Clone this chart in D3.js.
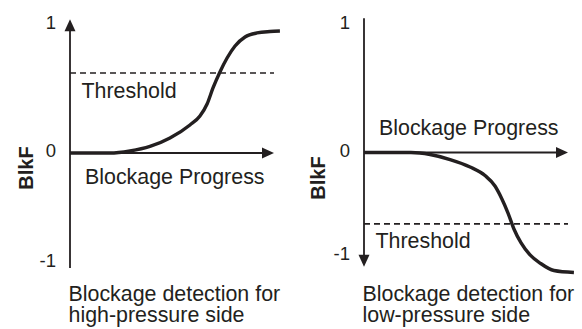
<!DOCTYPE html>
<html>
<head>
<meta charset="utf-8">
<script src="https://cdn.jsdelivr.net/npm/d3@7/dist/d3.min.js"></script>
<style>
  html, body { margin: 0; padding: 0; background: #fff; }
  svg { display: block; }
  text { font-family: "Liberation Sans", Arial, sans-serif; fill: #231f20; }
</style>
</head>
<body>
<svg id="chart" width="582" height="329"></svg>
<script>
// Blockage progress (0 = clean, 1 = fully blocked) against the BlkF indicator
const progressHigh = [0, 0.196, 0.294, 0.392, 0.490, 0.588, 0.637, 0.672, 0.701, 0.735, 0.770, 0.809, 0.858, 0.917, 0.980, 1.029];
const blkfHigh     = [0, 0, 0.016, 0.051, 0.117, 0.219, 0.289, 0.383, 0.508, 0.633, 0.742, 0.836, 0.906, 0.938, 0.949, 0.953];

const progressLow = [0, 0.230, 0.324, 0.422, 0.520, 0.593, 0.642, 0.676, 0.706, 0.735, 0.770, 0.814, 0.863, 0.931, 1.029];
const blkfLow     = [0, 0, -0.019, -0.068, -0.140, -0.222, -0.324, -0.449, -0.585, -0.739, -0.874, -0.990, -1.068, -1.140, -1.159];

const thresholdHigh = 0.625;
const thresholdLow = -0.69;

const tickValues = [-1, 0, 1];
const tickLabels = ["-1", "0", "1"];

const axisTitle = "BlkF";
const progressTitle = "Blockage Progress";
const thresholdTitle = "Threshold";
const captionHigh = ["Blockage detection for", "high-pressure side"];
const captionLow = ["Blockage detection for", "low-pressure side"];

const ink = "#231f20";
const svg = d3.select("#chart");

// Per-panel layout: the vertical scale is piecewise so that 0 sits where the
// horizontal axis crosses, with separate spans above and below it.
const panels = [
  {
    progress: progressHigh, blkf: blkfHigh, threshold: thresholdHigh, caption: captionHigh,
    xRange: [70, 274], yRange: [263, 153, 25],
    yExtent: [-1.045, 1.045], arrowUp: true,
    progressLabelDy: 31, thresholdLabelDy: 25, titleX: 33, titleY: 168
  },
  {
    progress: progressLow, blkf: blkfLow, threshold: thresholdLow, caption: captionLow,
    xRange: [364, 568], yRange: [256, 152.5, 25],
    yExtent: [-1.103, 1.053], arrowUp: false,
    progressLabelDy: -17.5, thresholdLabelDy: 24, titleX: 325, titleY: 178
  }
];

panels.forEach(p => {
  const g = svg.append("g");
  const x = d3.scaleLinear().domain([0, 1]).range(p.xRange);
  const y = d3.scaleLinear().domain(tickValues).range(p.yRange);
  const x0 = x(0), y0 = y(0);

  // Tick labels on the BlkF axis
  const axis = d3.axisLeft(y)
    .tickValues(tickValues)
    .tickFormat((d, i) => tickLabels[i])
    .tickSize(0)
    .tickPadding(14);
  const ag = g.append("g").attr("transform", `translate(${x0},0)`).call(axis);
  ag.select(".domain").remove();
  ag.selectAll("text")
    .attr("dy", "0.2em")
    .style("font-family", '"Liberation Sans", Arial, sans-serif')
    .style("font-size", "18.5px")
    .attr("fill", ink);

  // Vertical axis line with its arrowhead
  const yTop = y(p.yExtent[1]), yBot = y(p.yExtent[0]);
  g.append("line")
    .attr("x1", x0).attr("x2", x0)
    .attr("y1", p.arrowUp ? yTop + 10 : yTop)
    .attr("y2", p.arrowUp ? yBot : yBot - 10)
    .attr("stroke", ink).attr("stroke-width", 1.8);
  const ah = 12, aw = 5.5;
  const tipY = p.arrowUp ? yTop : yBot;
  const dir = p.arrowUp ? 1 : -1;
  g.append("path")
    .attr("d", `M${x0},${tipY} L${x0 - aw},${tipY + dir * ah} L${x0 + aw},${tipY + dir * ah} Z`)
    .attr("fill", ink);

  // Horizontal (progress) axis with arrowhead
  const xTip = x(1);
  g.append("line")
    .attr("x1", x0).attr("x2", xTip - 10)
    .attr("y1", y0).attr("y2", y0)
    .attr("stroke", ink).attr("stroke-width", 1.9);
  g.append("path")
    .attr("d", `M${xTip},${y0} L${xTip - ah},${y0 - aw} L${xTip - ah},${y0 + aw} Z`)
    .attr("fill", ink);

  // Dashed threshold
  g.append("line")
    .attr("x1", x(0)).attr("x2", x(1))
    .attr("y1", y(p.threshold)).attr("y2", y(p.threshold))
    .attr("stroke", ink).attr("stroke-width", 1.6)
    .attr("stroke-dasharray", "6,4");

  // BlkF response curve
  const pts = p.progress.map((v, i) => [v, p.blkf[i]]);
  g.append("path")
    .datum(pts)
    .attr("d", d3.line().x(d => x(d[0])).y(d => y(d[1])).curve(d3.curveMonotoneX))
    .attr("fill", "none")
    .attr("stroke", ink)
    .attr("stroke-width", 3.4)
    .attr("stroke-linecap", "butt")
    .attr("stroke-linejoin", "round");

  // Text labels
  g.append("text")
    .attr("x", x0 + 15).attr("y", y0 + p.progressLabelDy)
    .style("font-size", "21.4px")
    .text(progressTitle);
  g.append("text")
    .attr("x", x0 + 11.5).attr("y", y(p.threshold) + p.thresholdLabelDy)
    .style("font-size", "21.4px")
    .text(thresholdTitle);
  g.append("text")
    .attr("transform", `translate(${p.titleX},${p.titleY}) rotate(-90)`)
    .attr("text-anchor", "middle")
    .style("font-size", "20px")
    .style("font-weight", "bold")
    .text(axisTitle);

  // Two-line caption under each panel
  const cap = g.append("text")
    .attr("x", x0 - 1.5).attr("y", 300.5)
    .style("font-size", "21.4px");
  cap.selectAll("tspan")
    .data(p.caption)
    .join("tspan")
    .attr("x", x0 - 1.5)
    .attr("dy", (d, i) => i === 0 ? 0 : 21)
    .text(d => d);
});
</script>
</body>
</html>
